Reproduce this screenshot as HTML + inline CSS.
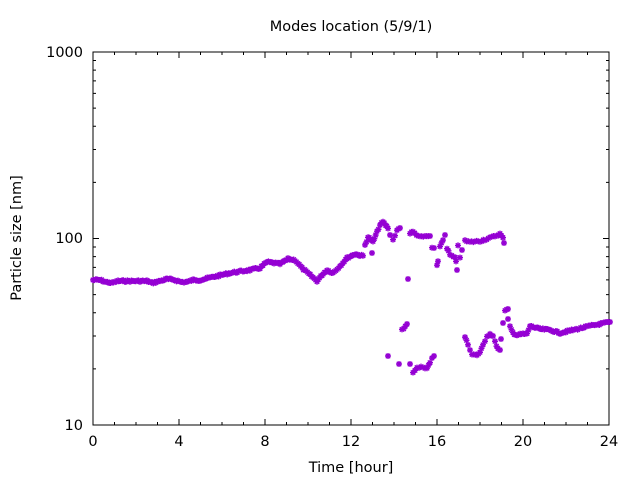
<!DOCTYPE html>
<html><head><meta charset="utf-8"><style>
html,body{margin:0;padding:0;background:#fff}
svg{display:block}
text{font-family:"DejaVu Sans","Liberation Sans",sans-serif;font-size:14.5px;fill:#000}
</style></head><body>
<svg id="s" width="640" height="480" xmlns="http://www.w3.org/2000/svg">
<rect width="640" height="480" fill="#fff"/>
<text x="351" y="31" text-anchor="middle">Modes location (5/9/1)</text>
<text x="351" y="472" text-anchor="middle">Time [hour]</text>
<text transform="translate(21,238) rotate(-90)" text-anchor="middle">Particle size [nm]</text>
<text x="83" y="57" text-anchor="end">1000</text>
<text x="83" y="243" text-anchor="end">100</text>
<text x="83" y="430" text-anchor="end">10</text>
<g id="ax" stroke="#000" stroke-width="1" fill="none"></g>
<g id="pts" stroke="#9400d3" stroke-width="1.4" fill="none"></g>
<g id="xl" text-anchor="middle"></g>
</svg>
<script>
var NS="http://www.w3.org/2000/svg";
var L=93,R=609,T=52,B=425;
var ax=document.getElementById('ax'),pts=document.getElementById('pts'),xl=document.getElementById('xl');
var d="M"+L+" "+T+"H"+R+"V"+B+"H"+L+"Z";
for(var h=0;h<=24;h++){var x=L+h*(R-L)/24;var len=(h%4==0)?6:3;
 d+="M"+x+" "+B+"v-"+len+"M"+x+" "+T+"v"+len;
 if(h%4==0){var t=document.createElementNS(NS,'text');t.setAttribute('x',x);t.setAttribute('y',446);t.textContent=h;xl.appendChild(t);}}
for(var dec=1;dec<=3;dec++){for(var m=1;m<10;m++){if(dec==3&&m>1)break;
 var v=dec+Math.log10(m);var y=B-(v-1)*(B-T)/2;var len=(m==1)?6:3;
 d+="M"+L+" "+y+"h"+len+"M"+R+" "+y+"h-"+len;}}
var p=document.createElementNS(NS,'path');p.setAttribute('d',d);ax.appendChild(p);
var pd="";var seed=7;function rnd(){seed=(seed*9301+49297)%233280;return seed/233280-0.5;}
function star(x,y){pd+="M"+(x-3)+" "+y+"h6M"+x+" "+(y-3)+"v6M"+(x-2.2)+" "+(y-2.2)+"l4.4 4.4M"+(x-2.2)+" "+(y+2.2)+"l4.4 -4.4";}
function line(a,step){for(var i=0;i<a.length-1;i++){var x0=a[i][0],y0=a[i][1],x1=a[i+1][0],y1=a[i+1][1];
 var n=Math.max(1,Math.round(Math.abs(x1-x0)/step));for(var k=0;k<n;k++){star(x0+(x1-x0)*k/n,y0+(y1-y0)*k/n+rnd()*1.8);}}
 star(a[a.length-1][0],a[a.length-1][1]);}
line([[93,280],[100,280],[106,282],[112,283],[118,281],[130,281],[140,281],[147,281],[152,283],[160,281],[167,279],[175,280],[181,282],[187,282],[193,280],[200,280],[213,277],[230,273],[250,270],[260,268],[267,262],[274,263],[280,264],[288,259],[295,260],[302,268],[317,281],[322,275],[327,270],[333,273],[340,266],[347,258],[355,254],[363,256],[365,245],[368,237],[373,242],[377,232],[380,225],[383,222],[388,228],[390,235]],1.4);
line([[393,240],[397,230],[400,228]],1.8);
line([[410,233],[413,232],[420,237],[430,236]],1.8);
line([[432,248],[434,248]],1.8);
line([[437,266],[438,262],[440,246],[443,240],[445,235]],1.8);
line([[447,248],[450,255],[455,258],[456,262],[457,270]],1.8);
line([[458,245],[460,257],[462,250]],1.8);
line([[465,241],[470,242],[480,241],[490,238],[495,236],[500,234],[503,238],[504,243]],1.6);
star(372,253);star(388,356);star(399,364);star(408,279);
line([[402,330],[407,324]],1.8);
star(410,364);
line([[413,372],[417,368],[423,367],[427,368],[430,363],[432,358],[434,356]],1.8);
line([[465,337],[468,345],[472,354],[477,355],[480,353],[483,345],[487,336],[490,334],[493,336],[495,342],[498,349],[500,350]],1.8);
star(501,339);star(503,323);line([[505,311],[508,309]],1.8);star(508,319);
line([[510,327],[513,333],[517,335],[523,334],[527,334],[530,326],[533,327],[540,329],[550,330],[560,333],[573,330],[590,326],[610,322]],1.5);
var q=document.createElementNS(NS,'path');q.setAttribute('d',pd);pts.appendChild(q);
</script>
</body></html>
